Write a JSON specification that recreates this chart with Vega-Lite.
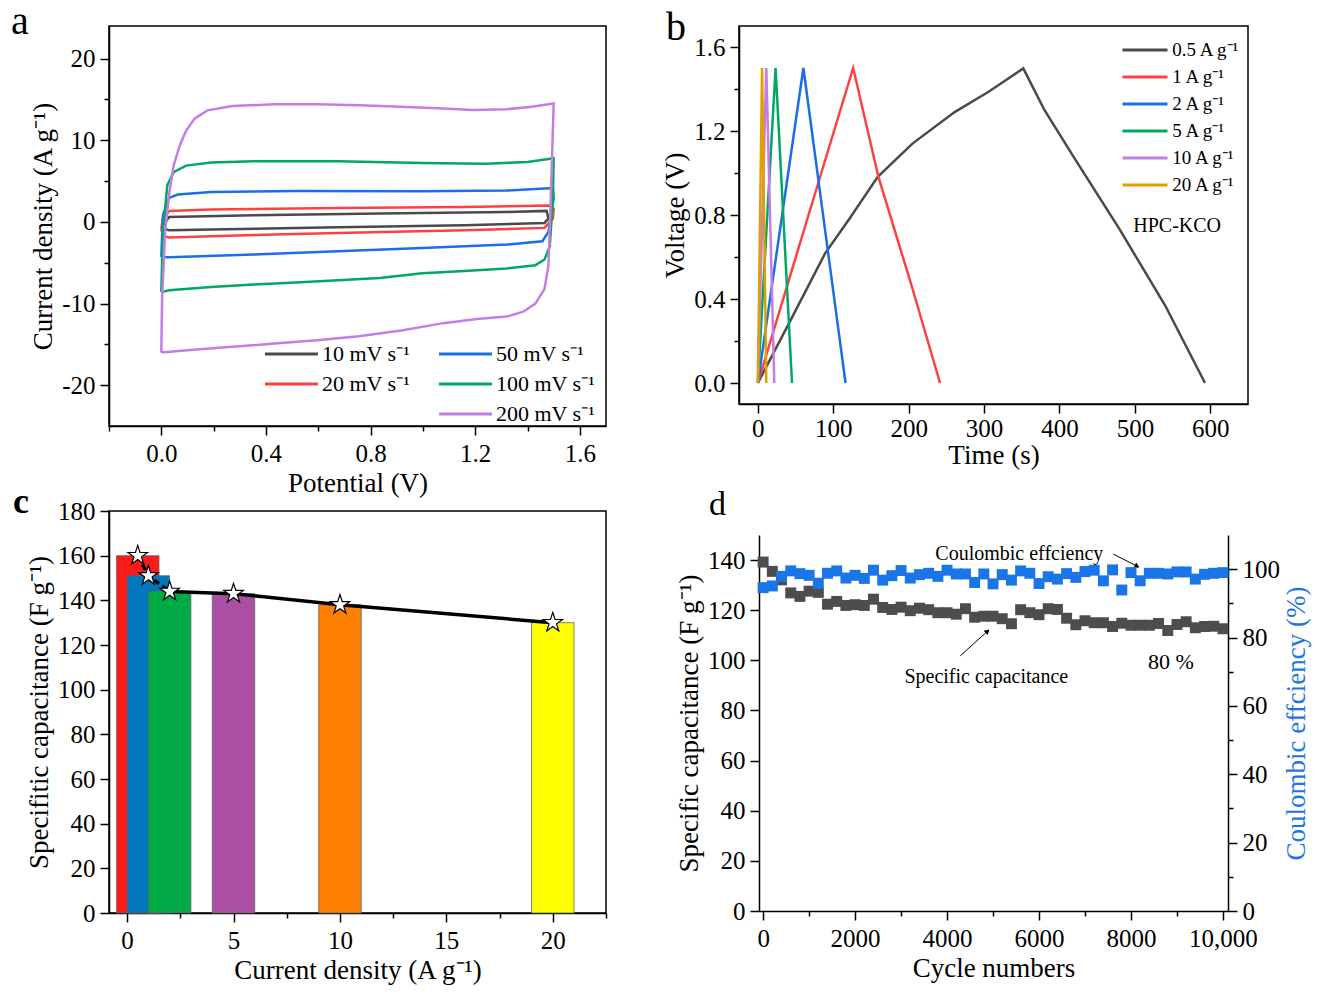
{
"$schema": "https://vega.github.io/schema/vega-lite/v6.json",
"background": "white",
"padding": {"left": 10, "top": 1, "right": 5, "bottom": 5},
"spacing": -14,
"resolve": {"scale": {"color": "independent"}, "legend": {"color": "independent"}},
"vconcat": [
{"spacing": 54, "resolve": {"scale": {"color": "independent"}, "legend": {"color": "independent"}}, "hconcat": [
{
"width": 497, "height": 400,
"title": {"text": "a", "dx": -98, "offset": -16},
"data": {"values": [
{"s":"10 mV s⁻¹","k":0,"v":0.006,"i":-0.41},{"s":"10 mV s⁻¹","k":1,"v":0.03,"i":0.61},{"s":"10 mV s⁻¹","k":2,"v":0.353,"i":0.82},{"s":"10 mV s⁻¹","k":3,"v":0.836,"i":1.02},{"s":"10 mV s⁻¹","k":4,"v":1.32,"i":1.22},{"s":"10 mV s⁻¹","k":5,"v":1.473,"i":1.35},{"s":"10 mV s⁻¹","k":6,"v":1.48,"i":0.41},{"s":"10 mV s⁻¹","k":7,"v":1.465,"i":-0.12},{"s":"10 mV s⁻¹","k":8,"v":1.16,"i":-0.41},{"s":"10 mV s⁻¹","k":9,"v":0.675,"i":-0.65},{"s":"10 mV s⁻¹","k":10,"v":0.19,"i":-0.94},{"s":"10 mV s⁻¹","k":11,"v":0.03,"i":-1.02},{"s":"10 mV s⁻¹","k":12,"v":0.006,"i":-0.82},{"s":"10 mV s⁻¹","k":13,"v":0.006,"i":-0.41},
{"s":"20 mV s⁻¹","k":0,"v":0,"i":-0.8},{"s":"20 mV s⁻¹","k":1,"v":0.006,"i":0.4},{"s":"20 mV s⁻¹","k":2,"v":0.03,"i":1.35},{"s":"20 mV s⁻¹","k":3,"v":0.19,"i":1.51},{"s":"20 mV s⁻¹","k":4,"v":0.675,"i":1.71},{"s":"20 mV s⁻¹","k":5,"v":1.16,"i":1.84},{"s":"20 mV s⁻¹","k":6,"v":1.48,"i":2.0},{"s":"20 mV s⁻¹","k":7,"v":1.5,"i":1.63},{"s":"20 mV s⁻¹","k":8,"v":1.497,"i":0.4},{"s":"20 mV s⁻¹","k":9,"v":1.465,"i":-0.73},{"s":"20 mV s⁻¹","k":10,"v":1.16,"i":-1.02},{"s":"20 mV s⁻¹","k":11,"v":0.675,"i":-1.35},{"s":"20 mV s⁻¹","k":12,"v":0.19,"i":-1.75},{"s":"20 mV s⁻¹","k":13,"v":0.03,"i":-1.92},{"s":"20 mV s⁻¹","k":14,"v":0.006,"i":-1.71},{"s":"20 mV s⁻¹","k":15,"v":0,"i":-0.8},
{"s":"50 mV s⁻¹","k":0,"v":0,"i":-4.3},{"s":"50 mV s⁻¹","k":1,"v":0.006,"i":0.8},{"s":"50 mV s⁻¹","k":2,"v":0.03,"i":2.94},{"s":"50 mV s⁻¹","k":3,"v":0.063,"i":3.35},{"s":"50 mV s⁻¹","k":4,"v":0.19,"i":3.67},{"s":"50 mV s⁻¹","k":5,"v":0.514,"i":3.8},{"s":"50 mV s⁻¹","k":6,"v":0.997,"i":3.76},{"s":"50 mV s⁻¹","k":7,"v":1.32,"i":3.84},{"s":"50 mV s⁻¹","k":8,"v":1.497,"i":4.16},{"s":"50 mV s⁻¹","k":9,"v":1.5,"i":2.86},{"s":"50 mV s⁻¹","k":10,"v":1.48,"i":-1.22},{"s":"50 mV s⁻¹","k":11,"v":1.457,"i":-2.37},{"s":"50 mV s⁻¹","k":12,"v":1.32,"i":-2.78},{"s":"50 mV s⁻¹","k":13,"v":0.997,"i":-3.18},{"s":"50 mV s⁻¹","k":14,"v":0.675,"i":-3.59},{"s":"50 mV s⁻¹","k":15,"v":0.353,"i":-4.0},{"s":"50 mV s⁻¹","k":16,"v":0.03,"i":-4.33},{"s":"50 mV s⁻¹","k":17,"v":0,"i":-4.3},
{"s":"100 mV s⁻¹","k":0,"v":0,"i":-8.6},{"s":"100 mV s⁻¹","k":1,"v":0.006,"i":-1.2},{"s":"100 mV s⁻¹","k":2,"v":0.023,"i":4.5},{"s":"100 mV s⁻¹","k":3,"v":0.047,"i":6.1},{"s":"100 mV s⁻¹","k":4,"v":0.095,"i":6.9},{"s":"100 mV s⁻¹","k":5,"v":0.19,"i":7.27},{"s":"100 mV s⁻¹","k":6,"v":0.353,"i":7.43},{"s":"100 mV s⁻¹","k":7,"v":0.675,"i":7.43},{"s":"100 mV s⁻¹","k":8,"v":0.997,"i":7.22},{"s":"100 mV s⁻¹","k":9,"v":1.24,"i":7.14},{"s":"100 mV s⁻¹","k":10,"v":1.4,"i":7.35},{"s":"100 mV s⁻¹","k":11,"v":1.5,"i":7.8},{"s":"100 mV s⁻¹","k":12,"v":1.497,"i":2.9},{"s":"100 mV s⁻¹","k":13,"v":1.485,"i":-3.0},{"s":"100 mV s⁻¹","k":14,"v":1.465,"i":-4.6},{"s":"100 mV s⁻¹","k":15,"v":1.43,"i":-5.3},{"s":"100 mV s⁻¹","k":16,"v":1.32,"i":-5.7},{"s":"100 mV s⁻¹","k":17,"v":1.159,"i":-6.0},{"s":"100 mV s⁻¹","k":18,"v":0.997,"i":-6.3},{"s":"100 mV s⁻¹","k":19,"v":0.836,"i":-6.86},{"s":"100 mV s⁻¹","k":20,"v":0.675,"i":-7.14},{"s":"100 mV s⁻¹","k":21,"v":0.514,"i":-7.43},{"s":"100 mV s⁻¹","k":22,"v":0.353,"i":-7.67},{"s":"100 mV s⁻¹","k":23,"v":0.19,"i":-7.96},{"s":"100 mV s⁻¹","k":24,"v":0.03,"i":-8.37},{"s":"100 mV s⁻¹","k":25,"v":0,"i":-8.6},
{"s":"200 mV s⁻¹","k":0,"v":0,"i":-16.0},{"s":"200 mV s⁻¹","k":1,"v":0.003,"i":-9.4},{"s":"200 mV s⁻¹","k":2,"v":0.0145,"i":-1.2},{"s":"200 mV s⁻¹","k":3,"v":0.031,"i":3.7},{"s":"200 mV s⁻¹","k":4,"v":0.047,"i":6.9},{"s":"200 mV s⁻¹","k":5,"v":0.071,"i":9.4},{"s":"200 mV s⁻¹","k":6,"v":0.095,"i":11.2},{"s":"200 mV s⁻¹","k":7,"v":0.127,"i":12.65},{"s":"200 mV s⁻¹","k":8,"v":0.176,"i":13.67},{"s":"200 mV s⁻¹","k":9,"v":0.272,"i":14.2},{"s":"200 mV s⁻¹","k":10,"v":0.433,"i":14.4},{"s":"200 mV s⁻¹","k":11,"v":0.595,"i":14.4},{"s":"200 mV s⁻¹","k":12,"v":0.756,"i":14.3},{"s":"200 mV s⁻¹","k":13,"v":0.917,"i":14.1},{"s":"200 mV s⁻¹","k":14,"v":1.078,"i":13.9},{"s":"200 mV s⁻¹","k":15,"v":1.19,"i":13.7},{"s":"200 mV s⁻¹","k":16,"v":1.32,"i":13.8},{"s":"200 mV s⁻¹","k":17,"v":1.416,"i":14.1},{"s":"200 mV s⁻¹","k":18,"v":1.5,"i":14.5},{"s":"200 mV s⁻¹","k":19,"v":1.489,"i":2.9},{"s":"200 mV s⁻¹","k":20,"v":1.48,"i":-5.3},{"s":"200 mV s⁻¹","k":21,"v":1.465,"i":-8.2},{"s":"200 mV s⁻¹","k":22,"v":1.43,"i":-10.0},{"s":"200 mV s⁻¹","k":23,"v":1.384,"i":-11.0},{"s":"200 mV s⁻¹","k":24,"v":1.32,"i":-11.6},{"s":"200 mV s⁻¹","k":25,"v":1.207,"i":-11.9},{"s":"200 mV s⁻¹","k":26,"v":1.078,"i":-12.4},{"s":"200 mV s⁻¹","k":27,"v":0.917,"i":-13.3},{"s":"200 mV s⁻¹","k":28,"v":0.756,"i":-14.0},{"s":"200 mV s⁻¹","k":29,"v":0.595,"i":-14.5},{"s":"200 mV s⁻¹","k":30,"v":0.433,"i":-14.9},{"s":"200 mV s⁻¹","k":31,"v":0.272,"i":-15.3},{"s":"200 mV s⁻¹","k":32,"v":0.111,"i":-15.7},{"s":"200 mV s⁻¹","k":33,"v":0,"i":-16.0}
]},
"mark": {"type": "line", "strokeWidth": 2.5},
"encoding": {
"x": {"field": "v", "type": "quantitative", "title": "Potential (V)",
 "scale": {"domain": [-0.2, 1.7], "nice": false, "zero": false},
 "axis": {"values": [-0.2,0,0.2,0.4,0.6,0.8,1,1.2,1.4,1.6],
  "labelExpr": "round(datum.value*10) % 4 === 0 ? format(datum.value, '.1f') : ''",
  "tickSize": {"condition": {"test": "round(datum.value*10) % 4 !== 0", "value": 5}, "value": 9}}},
"y": {"field": "i", "type": "quantitative", "title": "Current density (A g⁻¹)",
 "scale": {"domain": [-25, 24], "nice": false, "zero": false},
 "axis": {"values": [-20,-15,-10,-5,0,5,10,15,20],
  "labelExpr": "datum.value % 10 === 0 ? '' + datum.value : ''",
  "tickSize": {"condition": {"test": "datum.value % 10 !== 0", "value": 5}, "value": 9}}},
"color": {"field": "s", "type": "nominal",
 "scale": {"domain": ["10 mV s⁻¹","20 mV s⁻¹"," ","50 mV s⁻¹","100 mV s⁻¹","200 mV s⁻¹"],
  "range": ["#4a4a4a","#ff4040","rgba(0,0,0,0)","#1a6fe6","#00a862","#c57de6"]},
 "legend": {"orient": "none", "legendX": 163.5, "legendY": 309, "columns": 2, "title": null, "symbolType": "M-1.545,0L1.545,0", "symbolSize": 1176, "symbolStrokeWidth": 3, "labelFontSize": 22, "labelOffset": 11.5, "rowPadding": 0, "columnPadding": 22, "padding": 0}},
"order": {"field": "k", "type": "quantitative"}
}
},
{
"width": 509, "height": 378,
"title": {"text": "b", "dx": -73, "offset": -22},
"layer": [
{
"data": {"values": [
{"s":"0.5 A g⁻¹","t":0,"v":0},{"s":"0.5 A g⁻¹","t":45,"v":0.31},{"s":"0.5 A g⁻¹","t":89,"v":0.616},{"s":"0.5 A g⁻¹","t":121,"v":0.78},{"s":"0.5 A g⁻¹","t":159,"v":0.982},{"s":"0.5 A g⁻¹","t":205,"v":1.14},{"s":"0.5 A g⁻¹","t":261,"v":1.29},{"s":"0.5 A g⁻¹","t":306,"v":1.387},{"s":"0.5 A g⁻¹","t":352,"v":1.498},{"s":"0.5 A g⁻¹","t":380,"v":1.3},{"s":"0.5 A g⁻¹","t":420,"v":1.07},{"s":"0.5 A g⁻¹","t":480,"v":0.73},{"s":"0.5 A g⁻¹","t":540,"v":0.37},{"s":"0.5 A g⁻¹","t":593,"v":0},
{"s":"1 A g⁻¹","t":0,"v":0},{"s":"1 A g⁻¹","t":63,"v":0.75},{"s":"1 A g⁻¹","t":126.4,"v":1.5},{"s":"1 A g⁻¹","t":160,"v":0.98},{"s":"1 A g⁻¹","t":205,"v":0.45},{"s":"1 A g⁻¹","t":241.6,"v":0},
{"s":"2 A g⁻¹","t":0,"v":0},{"s":"2 A g⁻¹","t":60.4,"v":1.5},{"s":"2 A g⁻¹","t":116.3,"v":0},
{"s":"5 A g⁻¹","t":0,"v":0},{"s":"5 A g⁻¹","t":23.5,"v":1.5},{"s":"5 A g⁻¹","t":45.3,"v":0},
{"s":"10 A g⁻¹","t":0,"v":0},{"s":"10 A g⁻¹","t":11.2,"v":1.5},{"s":"10 A g⁻¹","t":21.8,"v":0},
{"s":"20 A g⁻¹","t":0,"v":0},{"s":"20 A g⁻¹","t":5.6,"v":1.5},{"s":"20 A g⁻¹","t":11.2,"v":0}
]},
"mark": {"type": "line", "strokeWidth": 2.5},
"encoding": {
"x": {"field": "t", "type": "quantitative", "title": "Time (s)",
 "scale": {"domain": [-25, 650], "nice": false, "zero": false},
 "axis": {"values": [0,50,100,150,200,250,300,350,400,450,500,550,600,650], "labelPadding": 3, "titlePadding": 1,
  "labelExpr": "datum.value % 100 === 0 ? '' + datum.value : ''",
  "tickSize": {"condition": {"test": "datum.value % 100 !== 0", "value": 5}, "value": 9}}},
"y": {"field": "v", "type": "quantitative", "title": "Voltage (V)",
 "scale": {"domain": [-0.1, 1.7], "nice": false, "zero": false},
 "axis": {"values": [0,0.2,0.4,0.6,0.8,1,1.2,1.4,1.6],
  "labelExpr": "round(datum.value*10) % 4 === 0 ? format(datum.value, '.1f') : ''",
  "tickSize": {"condition": {"test": "round(datum.value*10) % 4 !== 0", "value": 5}, "value": 9}}},
"color": {"field": "s", "type": "nominal",
 "scale": {"domain": ["0.5 A g⁻¹","1 A g⁻¹","2 A g⁻¹","5 A g⁻¹","10 A g⁻¹","20 A g⁻¹"],
  "range": ["#4a4a4a","#ff4040","#1a6fe6","#00a862","#c57de6","#e0a000"]},
 "legend": {"orient": "top-right", "title": null, "symbolType": "M-1.475,0L1.475,0", "symbolSize": 930, "symbolStrokeWidth": 3, "labelFontSize": 19, "labelOffset": 10.2, "rowPadding": 0, "offset": 7, "padding": 0}}
}
},
{
"data": {"values": [{"t": 556, "v": 0.748, "label": "HPC-KCO"}]},
"mark": {"type": "text", "fontSize": 20, "font": "Liberation Serif", "color": "black"},
"encoding": {
"x": {"field": "t", "type": "quantitative", "title": "Time (s)"},
"y": {"field": "v", "type": "quantitative", "title": "Voltage (V)"},
"text": {"field": "label"}
}
}
]
}
]},
{"spacing": 67, "resolve": {"scale": {"color": "independent"}, "legend": {"color": "independent"}}, "hconcat": [
{
"width": 497, "height": 402,
"title": {"text": "c", "dx": -96, "offset": -22, "fontWeight": "bold", "fontSize": 36},
"data": {"values": [
{"cd": 0.5, "cap": 160},{"cd": 1, "cap": 151},{"cd": 2, "cap": 144},{"cd": 5, "cap": 143},{"cd": 10, "cap": 138},{"cd": 20, "cap": 130}
]},
"layer": [
{
"mark": {"type": "bar", "width": 42.5, "orient": "vertical", "stroke": "#666666", "strokeWidth": 0.8},
"encoding": {
"x": {"field": "cd", "type": "quantitative", "title": "Current density (A g⁻¹)",
 "scale": {"domain": [-0.85, 22.5], "nice": false, "zero": false, "padding": 0},
 "axis": {"values": [0,2.5,5,7.5,10,12.5,15,17.5,20,22.5],
  "labelExpr": "datum.value % 5 === 0 ? '' + datum.value : ''",
  "tickSize": {"condition": {"test": "datum.value % 5 !== 0", "value": 5}, "value": 9}}},
"y": {"field": "cap", "type": "quantitative", "title": "Specifitic capacitance (F g⁻¹)",
 "scale": {"domain": [0, 180], "nice": false, "padding": 0},
 "axis": {"values": [0,10,20,30,40,50,60,70,80,90,100,110,120,130,140,150,160,170,180],
  "labelExpr": "datum.value % 20 === 0 ? '' + datum.value : ''",
  "tickSize": {"condition": {"test": "datum.value % 20 !== 0", "value": 5}, "value": 9}}},
"color": {"field": "cd", "type": "nominal", "legend": null,
 "scale": {"domain": [0.5, 1, 2, 5, 10, 20], "range": ["#ff1a1a","#0077bb","#00aa44","#aa4fa4","#ff8000","#ffff00"]}}
}
},
{
"transform": [{"filter": "datum.cd <= 2"}],
"mark": {"type": "line", "strokeWidth": 3.5, "strokeDash": [6, 4], "color": "black"},
"encoding": {
"x": {"field": "cd", "type": "quantitative", "title": "Current density (A g⁻¹)"},
"y": {"field": "cap", "type": "quantitative", "title": "Specifitic capacitance (F g⁻¹)"}
}
},
{
"transform": [{"filter": "datum.cd >= 2"}],
"mark": {"type": "line", "strokeWidth": 3.5, "color": "black"},
"encoding": {
"x": {"field": "cd", "type": "quantitative", "title": "Current density (A g⁻¹)"},
"y": {"field": "cap", "type": "quantitative", "title": "Specifitic capacitance (F g⁻¹)"}
}
},
{
"mark": {"type": "point", "shape": "M0,-1L0.2245,-0.309L0.9511,-0.309L0.3633,0.118L0.5878,0.809L0,0.382L-0.5878,0.809L-0.3633,0.118L-0.9511,-0.309L-0.2245,-0.309Z", "filled": true, "fill": "white", "stroke": "black", "strokeWidth": 1.2, "size": 420, "opacity": 1},
"encoding": {
"x": {"field": "cd", "type": "quantitative", "title": "Current density (A g⁻¹)"},
"y": {"field": "cap", "type": "quantitative", "title": "Specifitic capacitance (F g⁻¹)"}
}
}
]
},
{
"spacing": 0,
"vconcat": [
{
"width": 469, "height": 24,
"title": {"text": "d", "dx": -50, "offset": -11, "fontSize": 34},
"view": {"stroke": null},
"data": {"values": []},
"mark": {"type": "point", "opacity": 0},
"encoding": {}
},
{
"width": 469, "height": 376,
"view": {"stroke": null},
"data": {"values": [
{"cycle":0,"cap":139.2,"ce":94.6},{"cycle":200,"cap":135.5,"ce":95.1},{"cycle":400,"cap":132.1,"ce":97.9},{"cycle":600,"cap":126.9,"ce":99.5},{"cycle":800,"cap":125.5,"ce":98.7},{"cycle":1000,"cap":127.6,"ce":98.2},{"cycle":1200,"cap":127.1,"ce":95.9},{"cycle":1400,"cap":122.4,"ce":98.8},{"cycle":1600,"cap":123.5,"ce":99.5},{"cycle":1800,"cap":121.9,"ce":97.4},{"cycle":2000,"cap":122.2,"ce":98.2},{"cycle":2200,"cap":121.9,"ce":97.3},{"cycle":2400,"cap":124.4,"ce":99.7},{"cycle":2600,"cap":121.1,"ce":96.8},{"cycle":2800,"cap":120.3,"ce":98.1},{"cycle":3000,"cap":121.2,"ce":99.6},{"cycle":3200,"cap":119.8,"ce":97.4},{"cycle":3400,"cap":120.8,"ce":98.4},{"cycle":3600,"cap":120.2,"ce":98.8},{"cycle":3800,"cap":119.0,"ce":97.9},{"cycle":4000,"cap":119.0,"ce":99.7},{"cycle":4200,"cap":118.4,"ce":98.6},{"cycle":4400,"cap":120.6,"ce":98.6},{"cycle":4600,"cap":117.2,"ce":96.1},{"cycle":4800,"cap":117.6,"ce":98.6},{"cycle":5000,"cap":117.6,"ce":95.7},{"cycle":5200,"cap":116.6,"ce":98.4},{"cycle":5400,"cap":114.6,"ce":96.8},{"cycle":5600,"cap":120.2,"ce":99.5},{"cycle":5800,"cap":119.0,"ce":98.8},{"cycle":6000,"cap":118.2,"ce":95.8},{"cycle":6200,"cap":120.6,"ce":97.8},{"cycle":6400,"cap":120.3,"ce":97.1},{"cycle":6600,"cap":116.8,"ce":98.7},{"cycle":6800,"cap":114.2,"ce":97.6},{"cycle":7000,"cap":115.8,"ce":99.3},{"cycle":7200,"cap":115.0,"ce":99.7},{"cycle":7400,"cap":115.0,"ce":96.6},{"cycle":7600,"cap":113.5,"ce":99.8},{"cycle":7800,"cap":114.8,"ce":93.9},{"cycle":8000,"cap":114.0,"ce":99.0},{"cycle":8200,"cap":114.0,"ce":96.6},{"cycle":8400,"cap":114.0,"ce":98.8},{"cycle":8600,"cap":114.7,"ce":98.8},{"cycle":8800,"cap":111.9,"ce":98.6},{"cycle":9000,"cap":114.3,"ce":99.2},{"cycle":9200,"cap":115.4,"ce":99.2},{"cycle":9400,"cap":113.0,"ce":97.1},{"cycle":9600,"cap":113.5,"ce":98.5},{"cycle":9800,"cap":113.6,"ce":98.8},{"cycle":10000,"cap":112.6,"ce":99.0}
]},
"layer": [
{
"layer": [
{
"mark": {"type": "point", "shape": "square", "filled": true, "size": 120, "color": "#4d4d4d", "opacity": 1},
"encoding": {
"x": {"field": "cycle", "type": "quantitative", "title": "Cycle numbers",
 "scale": {"domain": [-90, 10110], "nice": false, "zero": false},
 "axis": {"values": [0,1000,2000,3000,4000,5000,6000,7000,8000,9000,10000],
  "labelExpr": "datum.value % 2000 !== 0 ? '' : (datum.value === 10000 ? '10,000' : '' + datum.value)",
  "tickSize": {"condition": {"test": "datum.value % 2000 !== 0", "value": 5}, "value": 9}}},
"y": {"field": "cap", "type": "quantitative", "title": "Specific capacitance (F g⁻¹)",
 "scale": {"domain": [0, 150], "nice": false},
 "axis": {"orient": "left", "values": [0,10,20,30,40,50,60,70,80,90,100,110,120,130,140],
  "labelExpr": "datum.value % 20 === 0 ? '' + datum.value : ''",
  "tickSize": {"condition": {"test": "datum.value % 20 !== 0", "value": 5}, "value": 9}}}
}
},
{
"data": {"values": [{"cycle": 5571, "cap": 142.4, "label": "Coulombic effciency"}, {"cycle": 4853, "cap": 93.3, "label": "Specific capacitance"}]},
"mark": {"type": "text", "fontSize": 20, "font": "Liberation Serif", "color": "black"},
"encoding": {
"x": {"field": "cycle", "type": "quantitative", "title": "Cycle numbers"},
"y": {"field": "cap", "type": "quantitative", "title": "Specific capacitance (F g⁻¹)"},
"text": {"field": "label"}
}
},
{
"data": {"values": [{"cycle": 8870, "cap": 99.3, "label": "80 %"}]},
"mark": {"type": "text", "fontSize": 22, "font": "Liberation Serif", "color": "black"},
"encoding": {
"x": {"field": "cycle", "type": "quantitative", "title": "Cycle numbers"},
"y": {"field": "cap", "type": "quantitative", "title": "Specific capacitance (F g⁻¹)"},
"text": {"field": "label"}
}
},
{
"data": {"values": [{"cycle": 7614, "cycle2": 8118, "cap": 142.4, "cap2": 137.7}, {"cycle": 4287, "cycle2": 4866, "cap": 101.8, "cap2": 111.4}]},
"mark": {"type": "rule", "color": "black", "strokeWidth": 1},
"encoding": {
"x": {"field": "cycle", "type": "quantitative", "title": "Cycle numbers"},
"x2": {"field": "cycle2"},
"y": {"field": "cap", "type": "quantitative", "title": "Specific capacitance (F g⁻¹)"},
"y2": {"field": "cap2"}
}
},
{
"data": {"values": [{"cycle": 8118, "cap": 137.7}]},
"mark": {"type": "point", "shape": "triangle", "filled": true, "color": "black", "size": 35, "angle": 117, "opacity": 1},
"encoding": {
"x": {"field": "cycle", "type": "quantitative", "title": "Cycle numbers"},
"y": {"field": "cap", "type": "quantitative", "title": "Specific capacitance (F g⁻¹)"}
}
},
{
"data": {"values": [{"cycle": 4866, "cap": 111.4}]},
"mark": {"type": "point", "shape": "triangle", "filled": true, "color": "black", "size": 35, "angle": 48, "opacity": 1},
"encoding": {
"x": {"field": "cycle", "type": "quantitative", "title": "Cycle numbers"},
"y": {"field": "cap", "type": "quantitative", "title": "Specific capacitance (F g⁻¹)"}
}
}
]
},
{
"mark": {"type": "point", "shape": "square", "filled": true, "size": 120, "color": "#1a75e8", "opacity": 1},
"encoding": {
"x": {"field": "cycle", "type": "quantitative", "title": "Cycle numbers"},
"y": {"field": "ce", "type": "quantitative", "title": "Coulombic effciency (%)",
 "scale": {"domain": [0, 110], "nice": false},
 "axis": {"orient": "right", "titleColor": "#1a75e8", "titleAngle": 270, "titleBaseline": "top",
  "values": [0,10,20,30,40,50,60,70,80,90,100],
  "labelExpr": "datum.value % 20 === 0 ? '' + datum.value : ''",
  "tickSize": {"condition": {"test": "datum.value % 20 !== 0", "value": 5}, "value": 9}}}
}
}
],
"resolve": {"scale": {"y": "independent"}}
}
]
}
]}
],
"config": {
"font": "Liberation Serif",
"view": {"stroke": "black", "strokeWidth": 1.5},
"axis": {"labelFont": "Liberation Serif", "titleFont": "Liberation Serif", "labelFontSize": 25, "titleFontSize": 27, "titleFontWeight": "normal", "labelColor": "black", "titleColor": "black", "domainColor": "black", "domainWidth": 1.5, "tickColor": "black", "tickWidth": 1.5, "grid": false, "labelPadding": 5, "titlePadding": 4, "labelOverlap": false, "labelFlush": false, "labelBound": false},
"axisX": {"labelPadding": 6},
"legend": {"labelFont": "Liberation Serif", "labelColor": "black", "titleFont": "Liberation Serif"},
"title": {"font": "Liberation Serif", "fontSize": 40, "fontWeight": "normal", "anchor": "start", "frame": "group", "baseline": "alphabetic", "color": "black"},
"text": {"font": "Liberation Serif"}
}
}
